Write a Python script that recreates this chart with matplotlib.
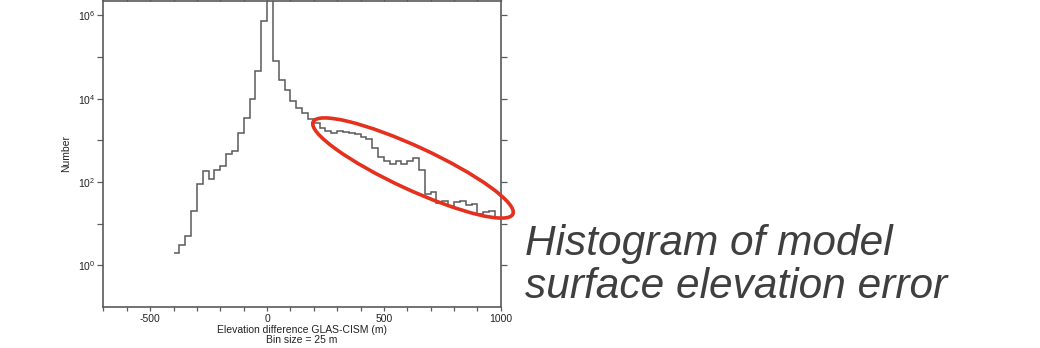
import numpy as np
import matplotlib
matplotlib.use("Agg")
import matplotlib.pyplot as plt
from matplotlib.patches import Ellipse
from matplotlib.ticker import FixedLocator, MultipleLocator, NullFormatter

plt.rcParams["font.family"] = ["Liberation Sans", "DejaVu Sans"]
plt.rcParams["mathtext.fontset"] = "custom"
plt.rcParams["mathtext.rm"] = "Liberation Sans"
plt.rcParams["mathtext.it"] = "Liberation Sans:italic"

# histogram of GLAS - CISM elevation difference, 25 m bins
BIN_SIZE = 25
bin_start = -400
bin_end = 1000
counts = [
    2, 3, 5, 20, 88, 180, 120, 198, 238, 461, 555, 1500, 3500, 10000,
    45300, 731000, 4.0e6, 78700, 28600, 15800, 8800, 6000, 4600, 3300,
    2630, 1950, 1700, 1510, 1660, 1550, 1510, 1380, 1220, 1050, 660, 400,
    316, 275, 316, 270, 316, 380, 195, 52, 56, 32, 35, 26, 33, 35, 28, 30,
    17, 19, 20, 14,
]
x_major = [-500, 0, 500, 1000]
y_major = [1e0, 1e2, 1e4, 1e6]
y_minor = [1e1, 1e3, 1e5]
y_labels = [r"$10^{0}$", r"$10^{2}$", r"$10^{4}$", r"$10^{6}$"]
title_lines = ["Histogram of model", "surface elevation error"]

edges = np.arange(bin_start, bin_end + BIN_SIZE, BIN_SIZE)

fig = plt.figure(figsize=(10.4, 3.48), dpi=100)
ax = fig.add_axes([0.0995, 0.118, 0.382, 0.879])

line_col = "#5a5a5a"
ax.stairs(counts, edges, baseline=None, color=line_col, lw=1.1)

ax.set_yscale("log")
ax.set_xlim(-700, 1000)
ax.set_ylim(1e-1, 2.2e6)

ax.xaxis.set_major_locator(FixedLocator(x_major))
ax.xaxis.set_minor_locator(MultipleLocator(100))
ax.yaxis.set_major_locator(FixedLocator(y_major))
ax.yaxis.set_minor_locator(FixedLocator(y_minor))
ax.yaxis.set_minor_formatter(NullFormatter())
ax.set_yticklabels(y_labels)
ax.set_xticklabels([str(v) for v in x_major])

ax.tick_params(which="both", direction="out", length=3, width=0.9,
               color=line_col, labelsize=7.5, labelcolor="#222222",
               top=True, right=True, pad=2)
ax.tick_params(axis="y", which="both", length=4)
for s in ax.spines.values():
    s.set_color(line_col)
    s.set_linewidth(1.2)

ax.set_xlabel("Elevation difference GLAS-CISM (m)\nBin size = 25 m",
              fontsize=7.5, color="#222222", labelpad=1, linespacing=1.0)
ax.set_ylabel("Number", fontsize=7.5, color="#222222", labelpad=5)

# red ellipse highlighting the tail (figure inches)
ell = Ellipse((4.13, 1.80), 2.20, 0.43, angle=-24.8, fill=False,
              edgecolor="#e5301e", lw=2.6, transform=fig.dpi_scale_trans,
              zorder=10)
fig.add_artist(ell)

fig.text(0.505, 0.267, title_lines[0], fontsize=30.5, style="italic",
         color="#3f3f3f", ha="left", va="baseline")
fig.text(0.505, 0.1437, title_lines[1], fontsize=30.5, style="italic",
         color="#3f3f3f", ha="left", va="baseline")

fig.savefig("out.png", dpi=100)
